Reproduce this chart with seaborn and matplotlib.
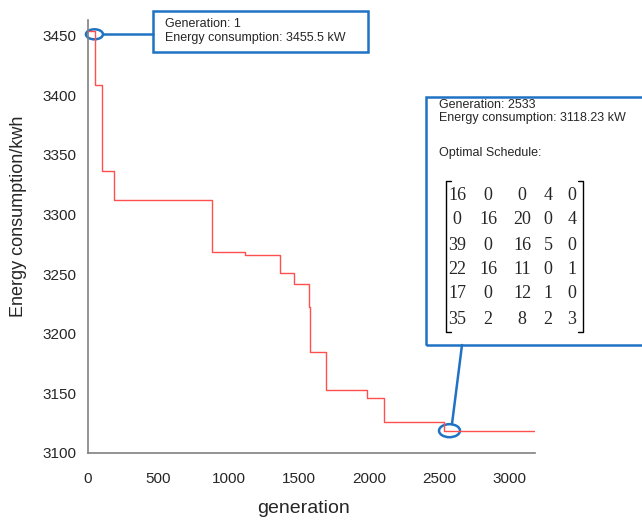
import numpy as np
import pandas as pd
import matplotlib
matplotlib.use("Agg")
import matplotlib.pyplot as plt
import seaborn as sns
from matplotlib.patches import Ellipse, Rectangle
from matplotlib.lines import Line2D

# step points of the best energy consumption per generation
generation = [1, 50, 98, 186, 880, 1114, 1364, 1466, 1574, 1580, 1693, 1983, 2102, 2533, 3180]
energy = [3454.0, 3408.3, 3336.5, 3311.9, 3268.6, 3265.8, 3250.5, 3241.3, 3222.3, 3184.8,
          3152.4, 3146.2, 3125.6, 3118.23, 3118.23]

first_gen, first_energy = 46, 3451.0
best_gen, best_energy = 2571, 3118.7

schedule = [
    [16, 0, 0, 4, 0],
    [0, 16, 20, 0, 4],
    [39, 0, 16, 5, 0],
    [22, 16, 11, 0, 1],
    [17, 0, 12, 1, 0],
    [35, 2, 8, 2, 3],
]

x_ticks = [0, 500, 1000, 1500, 2000, 2500, 3000]
y_ticks = [3100, 3150, 3200, 3250, 3300, 3350, 3400, 3450]

sns.set_style("white")
plt.rcParams["font.family"] = ["Liberation Sans", "DejaVu Sans"]

W, H = 642, 520
fig = plt.figure(figsize=(W / 100, H / 100), dpi=100)


def fp(x, y):
    # pixel (top-left origin) -> figure fraction
    return x / W, 1 - y / H


ax = fig.add_axes([88 / W, 1 - 453 / H, (535 - 88) / W, (453 - 20) / H])

df = pd.DataFrame({"generation": generation, "energy": energy})
sns.lineplot(data=df, x="generation", y="energy", drawstyle="steps-post",
             color="#ff4f4f", linewidth=1.0, ax=ax)

ax.set_xlim(0, 3179)
ax.set_ylim(3100, 3463)
ax.set_xticks(x_ticks)
ax.set_yticks(y_ticks)
ax.tick_params(direction="in", length=4, width=0.8, color="#555555",
               labelsize=11, pad=14)
ax.tick_params(axis="y", pad=8)
for s in ["top", "right"]:
    ax.spines[s].set_visible(False)
for s in ["left", "bottom"]:
    ax.spines[s].set_color("#808080")
    ax.spines[s].set_linewidth(1.2)
ax.set_xlabel("generation", fontsize=14)
ax.set_ylabel("Energy consumption/kwh", fontsize=13)
ax.xaxis.set_label_coords((303 - 88) / 447, (453 - 500) / 433)
ax.yaxis.set_label_coords((27 - 88) / 447, (453 - 216) / 433)

blue = "#1f73c2"

# marker ellipses on the data points
ax.add_patch(Ellipse((first_gen, first_energy), 121, 8.4, fill=False,
                     edgecolor=blue, linewidth=1.8, clip_on=False))
ax.add_patch(Ellipse((best_gen, best_energy), 149, 10.9, fill=False,
                     edgecolor=blue, linewidth=1.8, clip_on=False))

# box 1
x0, y0 = fp(153, 52)
x1, y1 = fp(368, 11)
fig.patches.append(Rectangle((x0, y0), x1 - x0, y1 - y0, transform=fig.transFigure,
                             fill=False, edgecolor=blue, linewidth=1.8))
fig.lines.append(Line2D([fp(103, 0)[0], fp(153, 0)[0]], [fp(0, 33.5)[1]] * 2,
                        transform=fig.transFigure, color=blue, linewidth=1.8))
fig.text(*fp(165, 24), "Generation: 1", fontsize=9, va="center")
fig.text(*fp(165, 38), "Energy consumption: 3455.5 kW", fontsize=9, va="center")

# box 2
x0, y0 = fp(426, 345)
x1, y1 = fp(660, 97)
fig.patches.append(Rectangle((x0, y0), x1 - x0, y1 - y0, transform=fig.transFigure,
                             fill=False, edgecolor=blue, linewidth=1.8, clip_on=False))
fig.lines.append(Line2D([fp(462, 0)[0], fp(452, 0)[0]], [fp(0, 345)[1], fp(0, 424)[1]],
                        transform=fig.transFigure, color=blue, linewidth=1.8))
fig.text(*fp(439, 105), "Generation: 2533", fontsize=9, va="center")
fig.text(*fp(439, 118), "Energy consumption: 3118.23 kW", fontsize=9, va="center")
fig.text(*fp(439, 153), "Optimal Schedule:", fontsize=9, va="center")

# matrix
col_x = [457, 488, 522, 548, 572]
row_y = [195, 220, 245, 270, 294, 319]
for r, row in enumerate(schedule):
    for c, v in enumerate(row):
        fig.text(*fp(col_x[c], row_y[r]), str(v), fontsize=13, ha="center", va="center",
                 family="Liberation Serif")
for bx, tick in [(446, 5), (583, -5)]:
    xs = [fp(bx + tick, 0)[0], fp(bx, 0)[0], fp(bx, 0)[0], fp(bx + tick, 0)[0]]
    ys = [fp(0, 181)[1], fp(0, 181)[1], fp(0, 332)[1], fp(0, 332)[1]]
    fig.lines.append(Line2D(xs, ys, transform=fig.transFigure, color="black", linewidth=1.0))

fig.savefig("out.png", dpi=100)
